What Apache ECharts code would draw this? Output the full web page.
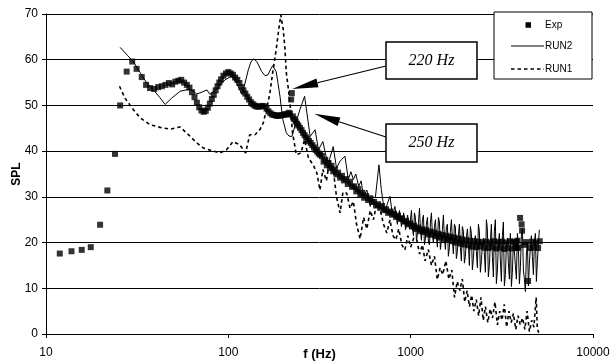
<!DOCTYPE html>
<html><head><meta charset="utf-8">
<script src="https://cdn.jsdelivr.net/npm/echarts@6.0.0/dist/echarts.min.js"></script>
<style>html,body{margin:0;padding:0;background:#fff}#c{width:610px;height:361px}</style>
</head><body><div id="c"></div>
<script>
// ---- data ----
const xTicks = [10, 100, 1000, 10000];
const yTicks = [0, 10, 20, 30, 40, 50, 60, 70];

const expF = [11.9,13.8,15.7,17.6,19.8,21.7,23.9,25.5,27.7,29.7,31.4,33.5,35.4,37.2,39.2,41.2,43.2,45.2,47.2,49.2,51.2,53.2,55.2,57.2,59.2,61.2,63.2,65.2,67.2,69.2,71.2,73.2,75.2,77.2,79.2,81.2,83.2,85.2,87.2,89.2,91.2,94,97,100,103,106,109,112,115,118,121,124,127,130,133,136,139,142,146,150,154,158,162,166,170,174,178,182,186,190,194,198,202,206,210,214,218,221,223,226,230,234,238,242,247,252,257,262,267,272,277,283,289,295,301,307,313,319,326,333,340,347,354,361,368,376,384,392,400,410,420,430,441,452,465,477,490,503,516,529,542,556,570,584,599,614,630,646,662,680,697,715,733,752,771,790,810,831,852,875,897,920,943,967,992,1017,1043,1070,1097,1126,1155,1184,1214,1245,1278,1311,1344,1378,1414,1450,1487,1525,1564,1604,1645,1687,1730,1775,1820,1866,1914,1963,2013,2065,2118,2172,2228,2285,2343,2403,2465,2528,2593,2659,2726,2796,2868,2941,3016,3093,3172,3254,3337,3422,3510,3600,3692,3760,3790,3820,3850,3883,3982,4060,4084,4189,4296,4406,4518,4634,4753,4874,4999,5100];
const expSPL = [17.6,18.1,18.4,19.0,23.9,31.4,39.4,50.0,57.4,59.6,58.0,56.2,54.5,53.8,53.6,54.0,54.2,54.5,54.9,54.6,55.2,55.4,55.6,55.0,54.5,53.9,52.9,51.8,50.6,49.6,48.9,48.6,48.8,49.5,50.4,51.4,52.3,53.3,54.2,55.0,55.7,56.5,57.0,57.3,57.0,56.7,56.1,55.6,54.9,54.0,53.3,52.6,51.9,51.3,50.7,50.3,50.0,49.8,49.7,49.8,49.9,49.8,49.3,48.7,48.3,48.0,47.9,47.8,47.7,47.8,47.8,47.9,48.0,48.1,48.0,48.4,48.2,51.3,52.7,47.6,47.0,46.5,46.0,45.6,45.1,44.6,44.0,43.5,43.0,42.6,42.2,41.8,41.3,40.8,40.3,39.9,39.5,39.2,38.9,37.7,38.1,36.9,37.4,36.3,36.8,35.6,36.0,34.9,35.3,34.2,34.6,33.6,33.9,32.8,33.3,32.2,32.3,31.2,31.7,30.5,30.9,29.8,30.2,29.3,29.7,28.9,28.9,28.1,28.4,27.6,28.0,27.1,27.3,26.5,26.8,26.1,26.3,25.6,25.9,25.2,25.3,24.6,24.7,24.0,24.2,23.5,23.7,23.0,23.3,22.5,22.9,22.3,22.7,21.8,22.4,21.7,22.2,21.4,21.9,21.1,21.7,20.8,21.5,20.6,21.3,20.3,21.1,20.0,20.9,19.8,20.7,19.6,20.5,19.4,20.4,19.1,20.3,19.0,20.2,19.2,20.1,18.9,20.2,18.8,20.0,19.0,20.3,18.7,20.1,18.9,20.2,18.6,20.0,18.8,20.3,18.7,20.1,19.0,20.2,18.8,20.4,18.9,25.4,24.0,22.6,19.5,20.1,11.6,18.8,20.2,18.9,20.0,18.8,20.3,19.0,20.1,18.9,20.4,19.8];

const run2F = [25.5,27.9,30.1,32.8,35.7,38.8,42.0,45.0,48.9,54.4,61.7,67.2,71.6,76.3,79.3,86.3,95.9,104,111,118.7,123.5,128.7,133,137.4,143.3,152.5,159,165,170,175,179,183,187,192,199,208,215,223,233,247,262,281,299,312,330,345,355,376,392,410,436,455,470,485,500,519,535,551,575,600,620,640,670,690,720,745,770,795,820,845,868,890,915,938,962,985,1010,1023,1036,1049,1062,1076,1090,1104,1118,1132,1146,1160,1175,1190,1205,1220,1236,1252,1268,1284,1300,1316,1333,1350,1367,1384,1402,1420,1438,1456,1475,1493,1512,1531,1551,1570,1590,1610,1631,1652,1673,1694,1715,1737,1759,1781,1804,1827,1850,1873,1897,1921,1946,1971,1996,2021,2047,2073,2099,2126,2153,2180,2208,2236,2264,2293,2322,2352,2382,2412,2443,2474,2505,2537,2569,2602,2635,2668,2702,2736,2771,2806,2842,2878,2915,2952,2990,3028,3066,3105,3145,3185,3225,3266,3308,3350,3392,3435,3479,3523,3568,3613,3659,3706,3753,3801,3849,3898,3947,3997,4048,4100,4152,4205,4258,4312,4367,4423,4479,4536,4593,4652,4711,4771,4831,4893,4955,5017,5080];
const run2SPL = [62.7,61.0,59.6,57.2,54.9,53.4,51.8,50.2,51.6,53.1,53.6,52.5,52.9,53.4,52.4,53.6,55.6,56.4,54.9,52.4,54.9,57.8,59.5,60.2,59.6,57.4,56.5,56.7,57.8,58.7,58.3,57.4,55.0,52.0,46.9,44.0,43.3,43.2,45.8,49.1,52.0,43.2,44.7,40.3,42.1,38.5,37.6,41.0,36.3,37.8,38.9,33.8,35.5,33.8,35.0,32.3,33.5,30.1,31.5,27.9,30.0,29.8,37.0,31.6,26.5,28.5,30.1,26.0,27.9,24.0,27.0,23.5,26.5,22.8,26.0,23.0,27.0,23.0,21.5,26.5,25.5,20.5,22.0,24.5,27.5,22.5,20.5,25.0,26.0,19.5,21.0,24.0,25.5,20.0,19.5,24.5,26.5,21.5,20.0,23.5,25.0,21.0,19.0,25.5,24.5,18.5,20.5,23.0,26.0,21.0,18.5,23.5,24.0,17.0,19.0,22.5,25.0,20.5,17.5,24.0,23.5,16.5,18.0,21.5,24.0,19.0,16.0,23.5,22.5,15.5,17.0,21.0,23.0,19.5,15.0,23.5,22.0,14.0,16.5,20.5,21.5,18.0,14.5,24.0,22.5,13.5,16.0,19.5,21.0,17.5,13.5,25.0,23.0,12.5,15.0,20.0,24.0,17.0,12.5,22.5,25.0,11.0,14.0,20.0,22.0,16.0,11.5,21.5,24.5,10.5,13.0,19.5,21.0,15.5,12.0,22.0,10.4,13.5,20.5,18.0,15.0,12.0,22.0,19.0,11.0,14.5,21.5,23.0,14.0,12.0,9.3,17.5,20.0,10.5,15.5,19.0,21.5,17.0,13.0,20.0,22.0,11.5,16.0,19.5,22.8];

const run1F = [25.3,27.1,30.1,32.8,37.2,42.2,47.9,54.4,60.4,67.2,72.9,81.0,90.0,97.7,106.2,115.4,124.5,131,140,149,155.5,162,169,175,183,189,194,200,204.6,208,217,225,236,250,262,275,292,306,318,330,345,360,376,392,410,425,446,465,485,505,528,552,575,600,625,650,680,710,740,770,800,830,860,895,930,965,1000,1040,1080,1120,1160,1200,1250,1300,1350,1400,1450,1500,1560,1620,1680,1740,1800,1860,1920,1980,2040,2100,2160,2220,2290,2360,2430,2500,2570,2650,2730,2810,2900,2990,3080,3170,3260,3360,3460,3560,3660,3770,3880,3990,4110,4230,4350,4480,4610,4740,4880,4950,5050];
const run1SPL = [54.2,51.6,49.1,47.3,45.8,45.2,44.8,45.3,43.6,41.8,40.7,40.1,39.6,40.3,42.1,41.4,39.6,43.6,43.6,44.7,46.2,49.1,52.7,57.1,62.2,66.6,69.8,66.6,62.2,57.1,51.3,44.0,39.2,39.6,42.5,38.5,37.0,35.2,31.5,36.0,33.5,38.0,36.0,30.0,26.5,31.0,30.8,27.5,29.0,24.0,20.8,25.5,23.0,27.0,25.0,28.5,27.2,24.0,22.1,25.0,21.5,20.6,23.0,19.5,18.4,21.5,19.0,21.0,20.6,17.5,19.5,16.0,18.5,15.0,17.0,11.9,14.5,13.0,16.0,12.0,14.0,8.0,11.5,9.5,12.0,7.0,9.5,6.0,8.5,5.0,7.5,4.0,8.0,3.0,6.0,2.5,5.5,3.5,7.0,2.0,5.0,3.0,6.5,1.5,5.0,2.5,4.5,1.0,4.0,2.0,3.5,1.0,5.0,0.5,3.0,1.5,8.0,1.0,0.3];

const seriesNames = ['Exp', 'RUN2', 'RUN1'];
const notes = [{ text: '220 Hz', f: 224, spl: 53.6 }, { text: '250 Hz', f: 296, spl: 48.2 }];

// ---- chart ----
const SANS = '"Liberation Sans", Arial, sans-serif';
const SERIF = '"Liberation Serif", "Times New Roman", serif';
const pairs = (fs, vs) => fs.map((f, i) => [f, vs[i]]);

const chart = echarts.init(document.getElementById('c'), null, { renderer: 'canvas' });
chart.setOption({
  animation: false,
  backgroundColor: '#fff',
  grid: { left: 46, right: 17, top: 14, bottom: 27, containLabel: false, outerBoundsMode: 'none' },
  xAxis: {
    type: 'log', logBase: 10, min: xTicks[0], max: xTicks[xTicks.length - 1],
    name: 'f (Hz)', nameLocation: 'middle', nameGap: 14, nameMoveOverlap: false,
    nameTextStyle: { fontFamily: SANS, fontWeight: 'bold', fontSize: 13, color: '#000', verticalAlign: 'top' },
    axisLine: { lineStyle: { color: '#000', width: 1 } },
    axisTick: { show: true, length: 4, lineStyle: { color: '#000' } },
    minorTick: { show: false },
    splitLine: { show: false },
    axisLabel: { fontFamily: SANS, fontSize: 12, color: '#000', margin: 13,
      formatter: v => String(Math.round(v)) }
  },
  yAxis: {
    type: 'value', min: yTicks[0], max: yTicks[yTicks.length - 1], interval: 10,
    name: 'SPL', nameLocation: 'middle', nameGap: 23, nameRotate: 90, nameMoveOverlap: false,
    nameTextStyle: { fontFamily: SANS, fontWeight: 'bold', fontSize: 12, color: '#000' },
    axisLine: { show: true, lineStyle: { color: '#000', width: 1 } },
    axisTick: { show: true, length: 4, lineStyle: { color: '#000' } },
    splitLine: { show: true, lineStyle: { color: '#000', width: 1 } },
    axisLabel: { fontFamily: SANS, fontSize: 12, color: '#000', margin: 8 }
  },
  series: [
    { name: seriesNames[0], type: 'scatter', symbol: 'rect', symbolSize: 6,
      itemStyle: { color: '#000' }, data: pairs(expF, expSPL), z: 2 },
    { name: seriesNames[1], type: 'line', symbol: 'none', showSymbol: false,
      lineStyle: { color: '#000', width: 1 }, data: pairs(run2F, run2SPL), z: 3 },
    { name: seriesNames[2], type: 'line', symbol: 'none', showSymbol: false,
      lineStyle: { color: '#000', width: 1.6, type: [3.5, 3] }, data: pairs(run1F, run1SPL), z: 4 }
  ]
});

// ---- legend & annotations (graphic overlay) ----
const g = [];
const LX = 494, LY = 12, LW = 98, LH = 67;
g.push({ type: 'rect', z: 100, shape: { x: LX, y: LY, width: LW, height: LH }, style: { fill: '#fff', stroke: '#000', lineWidth: 1 } });
const rows = [25, 46, 69];
g.push({ type: 'rect', z: 101, shape: { x: 525.5, y: rows[0] - 2.75, width: 5.5, height: 5.5 }, style: { fill: '#000' } });
g.push({ type: 'line', z: 101, shape: { x1: 511, y1: rows[1], x2: 544, y2: rows[1] }, style: { stroke: '#000', lineWidth: 1 } });
g.push({ type: 'line', z: 101, shape: { x1: 511, y1: rows[2], x2: 544, y2: rows[2] }, style: { stroke: '#000', lineWidth: 1.6, lineDash: [3.5, 3] } });
seriesNames.forEach((n, i) => {
  g.push({ type: 'text', z: 101, style: { text: n, x: 545, y: rows[i], align: 'left', verticalAlign: 'middle',
    fontFamily: SANS, fontSize: 10, fill: '#000' } });
});

const boxes = [{ x: 386, y: 42, w: 91, h: 37, tailY: 66 }, { x: 386, y: 124, w: 91, h: 38, tailY: 137 }];
notes.forEach((n, i) => {
  const b = boxes[i];
  const tip = chart.convertToPixel({ gridIndex: 0 }, [n.f, n.spl]);
  const tail = [b.x, b.tailY];
  const dx = tail[0] - tip[0], dy = tail[1] - tip[1];
  const len = Math.sqrt(dx * dx + dy * dy);
  const ux = dx / len, uy = dy / len;
  const hl = 26, hw = 4.5;
  const base = [tip[0] + ux * hl, tip[1] + uy * hl];
  g.push({ type: 'line', z: 102, shape: { x1: base[0], y1: base[1], x2: tail[0], y2: tail[1] }, style: { stroke: '#000', lineWidth: 1.2 } });
  g.push({ type: 'polygon', z: 102, shape: { points: [tip, [base[0] - uy * hw, base[1] + ux * hw], [base[0] + uy * hw, base[1] - ux * hw]] }, style: { fill: '#000' } });
  g.push({ type: 'rect', z: 102, shape: { x: b.x, y: b.y, width: b.w, height: b.h }, style: { fill: '#fff', stroke: '#000', lineWidth: 1.5 } });
  g.push({ type: 'text', z: 103, style: { text: n.text, x: b.x + b.w / 2, y: b.y + b.h / 2, align: 'center', verticalAlign: 'middle',
    fontFamily: SERIF, fontStyle: 'italic', fontSize: 16, fill: '#000' } });
});
chart.setOption({ graphic: g });
</script>
</body></html>
